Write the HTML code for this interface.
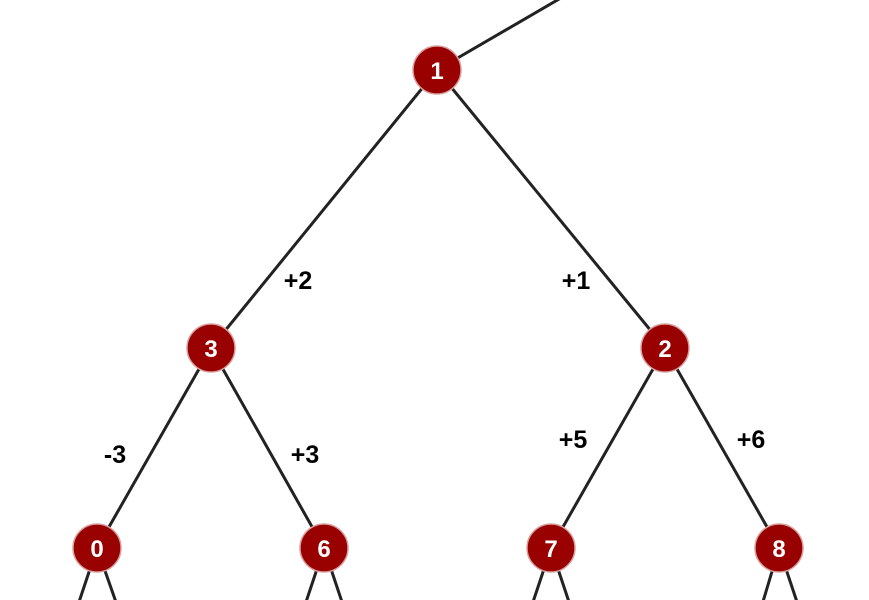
<!DOCTYPE html>
<html><head><style>html,body{margin:0;padding:0;background:#fff;}svg{display:block}</style></head>
<body>
<svg width="869" height="600" viewBox="0 0 869 600" xmlns="http://www.w3.org/2000/svg">
<g stroke="#222" stroke-width="3" fill="none">
<line x1="437" y1="70" x2="566" y2="-5"/>
<line x1="437" y1="70" x2="211" y2="348"/>
<line x1="437" y1="70" x2="665" y2="348"/>
<line x1="211" y1="348" x2="97" y2="548"/>
<line x1="211" y1="348" x2="324" y2="548"/>
<line x1="665" y1="348" x2="551" y2="548"/>
<line x1="665" y1="348" x2="779" y2="548"/>
<line x1="97" y1="548" x2="78" y2="605"/>
<line x1="97" y1="548" x2="117" y2="605"/>
<line x1="324" y1="548" x2="305" y2="605"/>
<line x1="324" y1="548" x2="343" y2="605"/>
<line x1="551" y1="548" x2="532" y2="605"/>
<line x1="551" y1="548" x2="570" y2="605"/>
<line x1="779" y1="548" x2="762" y2="605"/>
<line x1="779" y1="548" x2="798" y2="605"/>
</g>
<g fill="#990000" stroke="#d9a0a0" stroke-width="1.5">
<circle cx="437" cy="70" r="24"/>
<circle cx="211" cy="348" r="24"/>
<circle cx="665" cy="348" r="24"/>
<circle cx="97" cy="548" r="24"/>
<circle cx="324" cy="548" r="24"/>
<circle cx="551" cy="548" r="24"/>
<circle cx="779" cy="548" r="24"/>
</g>
<g fill="#fff" font-family="Liberation Sans, sans-serif" font-weight="bold" font-size="24" text-anchor="middle">
<text x="437" y="79">1</text>
<text x="211" y="357">3</text>
<text x="665" y="357">2</text>
<text x="97" y="557">0</text>
<text x="324" y="557">6</text>
<text x="551" y="557">7</text>
<text x="779" y="557">8</text>
</g>
<g fill="#000" font-family="Liberation Sans, sans-serif" font-weight="bold" font-size="25" text-anchor="middle">
<text x="298" y="289">+2</text>
<text x="576" y="289">+1</text>
<text x="115" y="463">-3</text>
<text x="305" y="463">+3</text>
<text x="573" y="448">+5</text>
<text x="751" y="448">+6</text>
</g>
</svg>
</body></html>
